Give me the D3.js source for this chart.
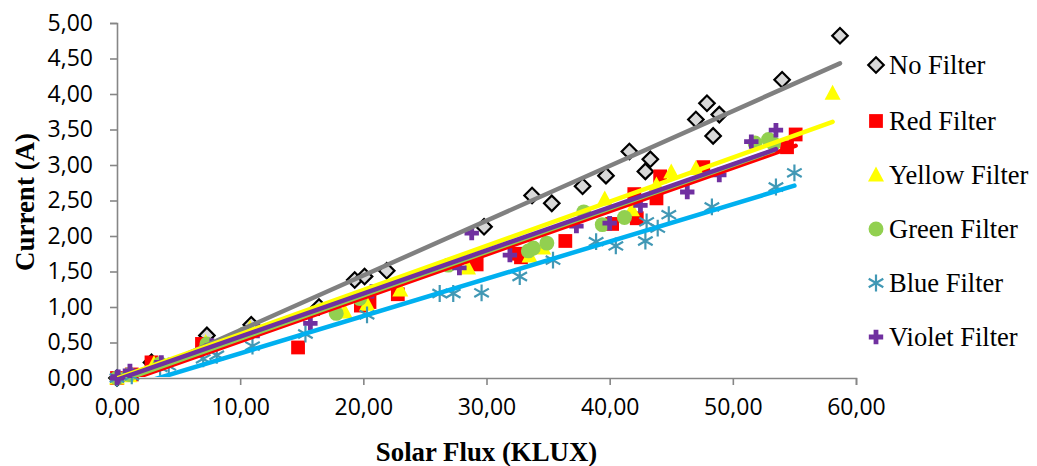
<!DOCTYPE html>
<html><head><meta charset="utf-8">
<script src="https://cdn.jsdelivr.net/npm/d3@7"></script>
<style>body{margin:0;background:#fff}</style>
</head><body>
<svg id="c" width="1037" height="466"></svg>
<script>
const seriesNames = ["No Filter","Red Filter","Yellow Filter","Green Filter","Blue Filter","Violet Filter"];
const noFilter = [[0,0],[2.8,0.22],[7.3,0.6],[10.9,0.75],[16.4,1.0],[19.3,1.38],[20.1,1.43],[21.9,1.51],[29.8,2.13],[33.7,2.57],[35.3,2.46],[37.8,2.70],[39.7,2.85],[41.6,3.19],[42.9,2.91],[43.3,3.08],[47.0,3.64],[47.9,3.87],[48.4,3.41],[48.9,3.71],[54.0,4.20],[58.7,4.82]];
const redFilter = [[0,0],[1.2,0.05],[2.8,0.22],[6.9,0.48],[14.7,0.43],[19.8,1.02],[20.5,1.07],[22.8,1.18],[29.2,1.60],[32.5,1.75],[32.8,1.70],[36.4,1.93],[40.2,2.17],[42.0,2.59],[42.2,2.25],[43.8,2.53],[44.1,2.84],[47.6,2.97],[54.4,3.25],[55.1,3.43]];
const yellowFilter = [[0,0],[1.0,0.03],[3.0,0.2],[7.2,0.5],[10.8,0.70],[18.5,0.93],[20.3,1.04],[23.0,1.24],[28.5,1.55],[33.5,1.72],[34.6,1.83],[39.6,2.52],[41.8,2.37],[43.8,2.72],[45.0,2.9],[47.0,2.95],[58.1,4.01]];
const greenFilter = [[0,0],[1.0,0.05],[3.5,0.2],[7.3,0.48],[10.3,0.62],[17.8,0.91],[19.7,1.12],[26.9,1.59],[33.4,1.79],[33.8,1.83],[34.9,1.90],[37.9,2.34],[39.4,2.16],[41.2,2.26],[51.8,3.31],[52.9,3.36],[53.3,3.30]];
const blueFilter = [[0,0],[1.2,0.03],[3.5,0.15],[4.2,0.17],[7.0,0.27],[8.1,0.32],[11.0,0.45],[15.3,0.62],[20.3,0.89],[26.2,1.19],[27.3,1.19],[29.6,1.20],[32.7,1.43],[35.4,1.66],[38.9,1.92],[40.5,1.86],[42.9,1.93],[43.0,2.20],[43.9,2.11],[44.8,2.30],[48.3,2.41],[53.5,2.69],[55.0,2.89]];
const violetFilter = [[0,0],[0.1,0.02],[1.05,0.1],[3.6,0.22],[7.7,0.46],[11.4,0.66],[15.7,0.77],[20.7,1.22],[27.8,1.55],[28.8,2.04],[31.9,1.73],[37.3,2.14],[40.0,2.18],[42.5,2.43],[46.3,2.62],[48.9,2.86],[51.5,3.33],[53.5,3.49]];
// trendline coefficients (slope, intercept)
const trendSlope = [0.0772,0.061,0.0622,0.0612,0.0525,0.0607];
const trendIntercept = [-0.10,-0.09,-0.005,-0.06,-0.178,-0.024];
const xTicks = [0,10,20,30,40,50,60];
const yTicks = [0,0.5,1,1.5,2,2.5,3,3.5,4,4.5,5];

const allData = [noFilter,redFilter,yellowFilter,greenFilter,blueFilter,violetFilter];
const lineColors = ["#808080","#FF0000","#FFFF00","#92D050","#00B0F0","#7030A0"];
const markColors = ["#D9D9D9","#FF0000","#FFFF00","#92D050","#4198B5","#7030A0"];

const svg = d3.select("#c");
const L=117,R=856,T=23,B=378;
const x = d3.scaleLinear().domain([0,60]).range([L,R]);
const y = d3.scaleLinear().domain([0,5]).range([B,T]);
const fmt = v => d3.format(".2f")(v).replace(".",",");

// axes
const gx = svg.append("g").attr("transform",`translate(0,${B})`)
  .call(d3.axisBottom(x).tickValues(xTicks).tickFormat(fmt).tickSizeOuter(0).tickSize(7).tickPadding(14));
const gy = svg.append("g").attr("transform",`translate(${L},0)`)
  .call(d3.axisLeft(y).tickValues(yTicks).tickFormat(fmt).tickSizeOuter(0).tickSize(7).tickPadding(17));
[gx,gy].forEach(g=>{
  g.select(".domain").attr("stroke","#868686").attr("stroke-width",1.6);
  g.selectAll(".tick line").attr("stroke","#868686").attr("stroke-width",1.6);
  g.selectAll(".tick text").attr("font-family","'Open Sans', sans-serif").attr("font-size",23).attr("fill","#000");
});

function symPath(i){
  if(i===0) return {d:d3.symbol(d3.symbolSquare,120)(), rot:45};
  if(i===1) return {d:d3.symbol(d3.symbolSquare,190)(), rot:0};
  if(i===2) return {d:"M0,-8.5L8,6.5L-8,6.5Z", rot:0};
  if(i===3) return {d:d3.symbol(d3.symbolCircle,175)(), rot:0};
  if(i===4) return {d:d3.symbol(d3.symbolAsterisk,200)(), rot:0};
  return {d:d3.symbol(d3.symbolCross,115)(), rot:0};
}
function drawMark(g,i,px,py){
  const s=symPath(i);
  const p=g.append("path").attr("d",s.d).attr("transform",`translate(${px},${py}) rotate(${s.rot})`);
  if(i===0) p.attr("fill",markColors[0]).attr("stroke","#000").attr("stroke-width",2.2);
  else if(i===4) p.attr("fill","none").attr("stroke",markColors[4]).attr("stroke-width",2.2);
  else p.attr("fill",markColors[i]);
}

const plot = svg.append("g");
allData.forEach((data,i)=>{
  const g = plot.append("g");
  data.forEach(d=>drawMark(g,i,x(d[0]),y(d[1])));
});
// trendlines
const line = d3.line().x(d=>x(d[0])).y(d=>y(d[1]));
svg.append("clipPath").attr("id","lc").append("rect").attr("x",L).attr("y",T-5).attr("width",R-L+5).attr("height",B-T+4);
const lg = svg.append("g").attr("clip-path","url(#lc)");
allData.forEach((data,i)=>{
  const ext = d3.extent(data,d=>d[0]);
  const pts = ext.map(v=>[v, trendSlope[i]*v+trendIntercept[i]]);
  lg.append("path").attr("d",line(pts)).attr("stroke",lineColors[i]).attr("stroke-width",4.5).attr("fill","none").attr("stroke-linecap","round");
});

// titles
svg.append("text").attr("x",(L+R)/2).attr("y",461).attr("text-anchor","middle")
  .attr("font-family","'Liberation Serif', 'Times New Roman', serif").attr("font-weight","bold").attr("font-size",26.8)
  .text("Solar Flux (KLUX)");
svg.append("text").attr("transform","translate(34,202) rotate(-90)").attr("text-anchor","middle")
  .attr("font-family","'Liberation Serif', 'Times New Roman', serif").attr("font-weight","bold").attr("font-size",27)
  .text("Current (A)");

// legend
const legY = [65,121,175,229,283,337];
seriesNames.forEach((n,i)=>{
  const g = svg.append("g");
  drawMark(g,i,876,legY[i]);
  g.append("text").attr("x",889).attr("y",legY[i]+9).attr("font-family","'Liberation Serif', 'Times New Roman', serif")
    .attr("font-size",26.5).attr("fill","#000").text(n);
});
</script>
</body></html>
